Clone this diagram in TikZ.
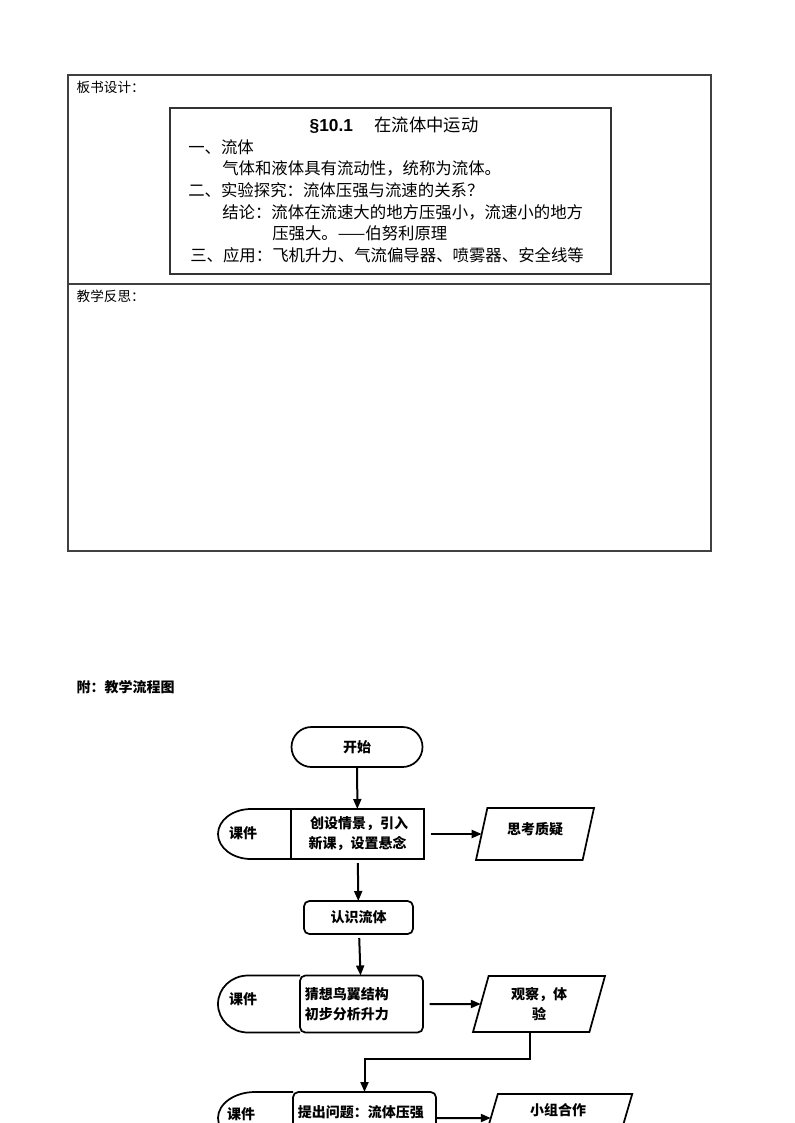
\documentclass[tikz,border=0pt]{standalone}
\usepackage{fontspec}
\setmainfont{Noto Sans CJK SC}
\newfontfamily\latinfont{Liberation Sans}
\usetikzlibrary{positioning, arrows.meta, shapes.geometric}

\begin{document}
\begin{tikzpicture}[
        x=0.75pt, y=0.75pt,
        heading/.style={anchor=west, font=\fontsize{10.2}{12}\selectfont},
        boardline/.style={anchor=west, inner sep=0pt, font=\fontsize{12.3}{14}\selectfont},
        flowbox/.style={
            rectangle, draw=black, line width=1.3pt, align=center, inner sep=2pt, outer sep=0pt,
            font=\fontsize{10.5}{15}\selectfont\bfseries
        },
        roundbox/.style={flowbox, rounded corners=4pt},
        iobox/.style={
            trapezium, trapezium left angle=68, trapezium right angle=112,
            trapezium stretches body=true, draw=black, line width=1.3pt, align=center,
            inner sep=2pt, outer sep=0pt, font=\fontsize{10.5}{15}\selectfont\bfseries
        },
        tag/.style={font=\fontsize{10.5}{12}\selectfont\bfseries},
        arrow/.style={line width=1.5pt, -{Triangle[length=7.5pt,width=6pt]}},
        tagline/.style={line width=1.3pt}
    ]
    \useasboundingbox (0,0) rectangle (794,-1123);
    \clip (0,0) rectangle (794,-1123);

    % Table
    \draw[line width=0.8pt, black!75] (68,-75) rectangle (711,-551);
    \draw[line width=0.8pt, black!75] (68,-284) -- (711,-284);
    \node[heading] (design) at (72,-87) {板书设计：};
    \node[heading] (review) at (72,-296) {教学反思：};

    % Board
    \node (board) [draw=black!80, line width=1.1pt, minimum width=330.75pt, minimum height=124.5pt] at (390.5,-191) {};
    \node (title) [font=\fontsize{13}{15}\selectfont] at (394,-125) {{\latinfont\bfseries §10.1}\hspace{16pt}在流体中运动};
    \node[boardline] (line1) at (188,-147) {一、流体};
    \node[boardline] (line2) at (222,-168) {气体和液体具有流动性，统称为流体。};
    \node[boardline] (line3) at (188,-190) {二、实验探究：流体压强与流速的关系？};
    \node[boardline] (line4) at (222,-212) {结论：流体在流速大的地方压强小，流速小的地方};
    \node[boardline] (line5) at (272,-233) {压强大。——伯努利原理};
    \node[boardline] (line6) at (190,-255) {三、应用：飞机升力、气流偏导器、喷雾器、安全线等};

    % Flow chart
    \node[heading, font=\fontsize{10.5}{12}\selectfont\bfseries] (flowtitle) at (72,-687) {附：教学流程图};

    \node (start) [flowbox, rounded corners=15pt, minimum width=98.25pt, minimum height=30pt] at (357,-747) {开始};

    \node (step1) [flowbox, minimum width=99.75pt, minimum height=37.5pt] at (357.5,-834) {\ 创设情景，引入\\新课，设置悬念};
    \node (kj1) [tag] at (243,-833) {课件};
    \draw[tagline] (step1.north west) -- ++(-40,0) arc[start angle=90, end angle=270, x radius=24.75pt, y radius=18.75pt] -- (step1.south west);
    \node (q1) [iobox, minimum width=88.5pt, minimum height=39pt, text depth=8pt] at (535,-834) {思考质疑};

    \node (read) [roundbox, minimum width=81.75pt, minimum height=24.75pt] at (358.5,-917.5) {认识流体};

    \node (step2) [roundbox, align=left, text width=85pt, minimum width=92.25pt, minimum height=42.75pt] at (361.5,-1004) {猜想鸟翼结构\\初步分析升力};
    \node (kj2) [tag] at (243,-999) {课件};
    \draw[tagline] (step2.north west) -- ++(-52,0) arc[start angle=90, end angle=270, x radius=22.5pt, y radius=21.375pt] -- (step2.south west);
    \node (q2) [iobox, minimum width=99pt, minimum height=42pt] at (539,-1004) {观察，体\\验};

    \node (step3) [roundbox, align=left, text width=100pt, minimum width=107.25pt, minimum height=39pt, text depth=10pt] at (364.5,-1118) {提出问题：流体压强};
    \node (kj3) [tag] at (241,-1114) {课件};
    \draw[tagline] (step3.north west) -- ++(-38,0) arc[start angle=90, end angle=270, x radius=27.75pt, y radius=19.5pt] -- (step3.south west);
    \node (q3) [iobox, minimum width=111.3pt, minimum height=36pt, text depth=13pt] at (558,-1118) {小组合作};

    % Arrows
    \draw[arrow] (start) -- (step1);
    \draw[arrow, shorten <=5pt] (step1) -- (q1);
    \draw[arrow, shorten <=3pt] (step1) -- (read);
    \draw[arrow, shorten <=3pt] (read) -- (step2);
    \draw[arrow, shorten <=5pt] (step2) -- (q2);
    \draw[arrow] ([xshift=-6.75pt]q2.south) -- ++(0,-27) -| (step3.north);
    \draw[arrow] (step3) -- (q3);

\end{tikzpicture}
\end{document}
